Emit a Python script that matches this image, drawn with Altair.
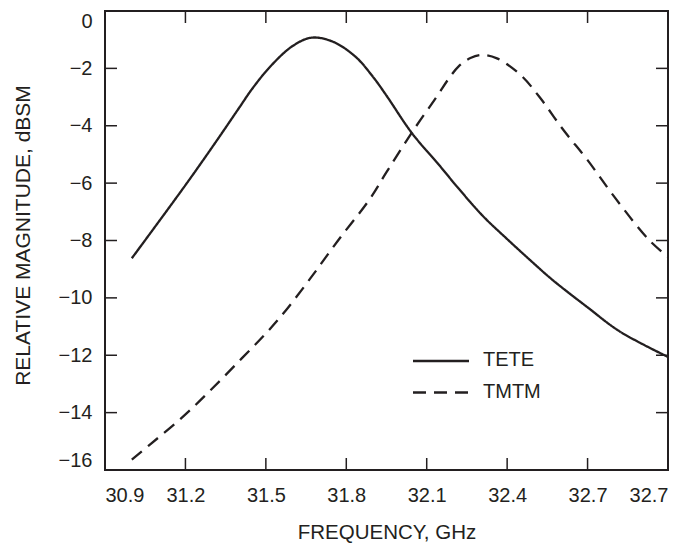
import altair as alt
import pandas as pd

# ---- data ----
series_names = ["TETE", "TMTM"]

tete_freq = [31.0, 31.2, 31.31, 31.4, 31.45, 31.52, 31.6, 31.67, 31.75, 31.835,
             31.9, 31.95, 32.045, 32.14, 32.22, 32.31, 32.4, 32.49, 32.57, 32.7,
             32.82, 33.0]
tete_mag = [-8.62, -6.07, -4.61, -3.38, -2.70, -1.90, -1.22, -0.93, -1.07, -1.60,
            -2.30, -2.95, -4.26, -5.30, -6.20, -7.15, -7.95, -8.72, -9.38, -10.33,
            -11.17, -12.06]

tmtm_freq = [31.0, 31.063, 31.19, 31.3, 31.41, 31.5, 31.575, 31.67, 31.77, 31.885,
             31.95, 32.045, 32.14, 32.182, 32.22, 32.263, 32.306, 32.362, 32.45, 32.52,
             32.61, 32.7, 32.8, 32.93, 33.0]
tmtm_mag = [-15.64, -15.15, -14.15, -13.16, -12.11, -11.24, -10.43, -9.27, -7.99, -6.59,
            -5.62, -4.23, -2.95, -2.36, -1.92, -1.64, -1.53, -1.65, -2.23, -2.99,
            -4.15, -5.20, -6.48, -7.99, -8.57]

x_tick_values = [30.9, 31.2, 31.5, 31.8, 32.1, 32.4, 32.7, 33.0]
x_tick_labels = ["30.9", "31.2", "31.5", "31.8", "32.1", "32.4", "32.7", "32.7"]
y_tick_values = [-16, -14, -12, -10, -8, -6, -4, -2, 0]

x_title = "FREQUENCY, GHz"
y_title = "RELATIVE MAGNITUDE, dBSM"

# ---- tables ----
curves = pd.concat([
    pd.DataFrame({"freq": tete_freq, "mag": tete_mag, "series": series_names[0]}),
    pd.DataFrame({"freq": tmtm_freq, "mag": tmtm_mag, "series": series_names[1]}),
])
xt = pd.DataFrame({"v": x_tick_values})
yt = pd.DataFrame({"v": y_tick_values})

W, H = 563, 459
INK = "#231f20"
FONT = "Liberation Sans"
DASH = [13, 8]

label_arr = "[" + ",".join("'%s'" % s for s in x_tick_labels) + "]"
x0 = x_tick_values[0]
step = round(x_tick_values[1] - x_tick_values[0], 6)
label_expr = "%s[round((datum.value - %s) / %s)]" % (label_arr, x0, step)

xscale = alt.Scale(domain=[x_tick_values[0], x_tick_values[-1]], nice=False, zero=False)
yscale = alt.Scale(domain=[y_tick_values[0], y_tick_values[-1]], nice=False, zero=False)

lines = alt.Chart(curves).mark_line(color=INK, strokeWidth=2.3, interpolate="catmull-rom").encode(
    x=alt.X("freq:Q", scale=xscale,
            axis=alt.Axis(values=x_tick_values, labelExpr=label_expr, title=x_title,
                          ticks=False, tickSize=0, domain=False, grid=False,
                          labelFlush=True, labelPadding=15, labelFontSize=20,
                          labelFont=FONT, labelColor=INK, titleFont=FONT,
                          titleFontSize=20.5, titleFontWeight="normal", titleColor=INK,
                          titlePadding=17)),
    y=alt.Y("mag:Q", scale=yscale,
            axis=alt.Axis(values=y_tick_values, format="d", title=y_title,
                          ticks=False, tickSize=0, domain=False, grid=False,
                          labelFlush=True, labelPadding=13, labelFontSize=20,
                          labelFont=FONT, labelColor=INK, titleFont=FONT,
                          titleFontSize=21, titleFontWeight="normal", titleColor=INK,
                          titlePadding=25, titleY=224)),
    strokeDash=alt.StrokeDash("series:N",
                              scale=alt.Scale(domain=series_names, range=[[1, 0], DASH]),
                              legend=None),
    detail="series:N",
)

TL = 12
tick_style = dict(color=INK, strokeWidth=1.5)
xt_bottom = alt.Chart(xt).mark_rule(**tick_style).encode(
    x=alt.X("v:Q", scale=xscale), y=alt.value(H), y2=alt.value(H - TL))
xt_top = alt.Chart(xt).mark_rule(**tick_style).encode(
    x=alt.X("v:Q", scale=xscale), y=alt.value(0), y2=alt.value(TL))
yt_left = alt.Chart(yt).mark_rule(**tick_style).encode(
    y=alt.Y("v:Q", scale=yscale), x=alt.value(0), x2=alt.value(TL))
yt_right = alt.Chart(yt).mark_rule(**tick_style).encode(
    y=alt.Y("v:Q", scale=yscale), x=alt.value(W), x2=alt.value(W - TL))

# ---- manual legend ----
leg_layers = []
leg_rows = [350, 381.5]
for name, dash, ry in zip(series_names, [[1, 0], DASH], leg_rows):
    d = pd.DataFrame({"s": [name]})
    leg_layers.append(
        alt.Chart(d).mark_rule(color=INK, strokeWidth=2.3, strokeDash=dash).encode(
            x=alt.value(308), x2=alt.value(364), y=alt.value(ry)))
    leg_layers.append(
        alt.Chart(d).mark_text(align="left", baseline="middle", font=FONT, fontSize=20,
                               color=INK).encode(
            text="s:N", x=alt.value(378), y=alt.value(ry - 1)))

chart = alt.layer(lines, xt_bottom, xt_top, yt_left, yt_right, *leg_layers).properties(
    width=W, height=H,
    autosize=alt.AutoSizeParams(type="none"),
    padding={"left": 105, "top": 11, "right": 7, "bottom": 76},
    background="white",
).configure_view(stroke=INK, strokeWidth=2)

chart.save("out.html", embed_options={"renderer": "svg", "actions": False})
